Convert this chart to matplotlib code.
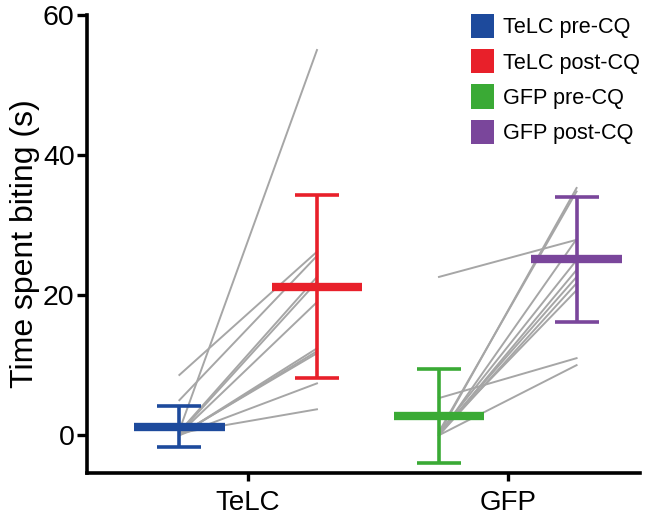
import numpy as np
import matplotlib
matplotlib.use("Agg")
from matplotlib import pyplot as plt
from matplotlib.patches import Patch

plt.rcParams['font.family'] = ['Liberation Sans', 'DejaVu Sans']

groups = ["TeLC", "GFP"]
conditions = ["TeLC pre-CQ", "TeLC post-CQ", "GFP pre-CQ", "GFP post-CQ"]
colors = ["#1d4a9c", "#e8202a", "#3aaa35", "#7a469b"]

# paired individual animals (pre, post)
telc_pre = [8.6, 5.0, 0.7, 0.5, 0.3, 0.2, 0.0, 0.1, 0.0, 0.3, 0.0]
telc_post = [26.2, 25.6, 55.0, 22.6, 21.9, 19.0, 12.4, 11.7, 7.4, 3.7, 12.0]
gfp_pre = [22.6, 5.3, 0.2, 0.5, 0.0, 0.3, 0.0, 0.2, 0.0, 0.4, 0.0]
gfp_post = [27.9, 11.0, 35.3, 34.8, 28.0, 25.0, 23.6, 22.6, 21.7, 20.7, 10.0]

# mean and SD
means = [1.2, 21.2, 2.7, 25.1]
sds = [2.9, 13.1, 6.7, 8.9]

fig = plt.figure(figsize=(6.46, 5.19), dpi=100)
ax = fig.add_axes([0.135, 0.0886, 0.856, 0.8825])

off = 0.265
xs = [1 - off, 1 + off, 2 - off, 2 + off]

for pre, post, g in [(telc_pre, telc_post, 1), (gfp_pre, gfp_post, 2)]:
    for a, b in zip(pre, post):
        ax.plot([g - off, g + off], [a, b], color="#a6a6a6", lw=1.4, zorder=1)

for x, m, s, c in zip(xs, means, sds, colors):
    ax.plot([x - 0.175, x + 0.175], [m, m], color=c, lw=6, solid_capstyle="butt", zorder=3)
    ax.errorbar(x, m, yerr=s, color=c, lw=2.6, capsize=16, capthick=2.6, fmt="none", zorder=2)

ax.set_xlim(0.38, 2.51)
ax.set_ylim(-5.4, 60)
ax.set_yticks([0, 20, 40, 60])
ax.set_xticks([1, 2])
ax.set_xticklabels(groups, fontsize=20)
ax.tick_params(axis="y", labelsize=20.5, length=7, width=2.4, pad=2)
ax.tick_params(axis="x", length=6, width=2.4, pad=6)
ax.set_ylabel("Time spent biting (s)", fontsize=23, labelpad=2)
for sp in ["top", "right"]:
    ax.spines[sp].set_visible(False)
for sp in ["left", "bottom"]:
    ax.spines[sp].set_linewidth(2.6)

handles = [Patch(facecolor=c, edgecolor="none") for c in colors]
ax.legend(handles, conditions, loc="upper right", frameon=False, fontsize=15.6,
          handlelength=1.1, handleheight=1.35, handletextpad=0.4, labelspacing=0.5,
          bbox_to_anchor=(1.035, 1.045))

fig.savefig("out.png", dpi=100)
